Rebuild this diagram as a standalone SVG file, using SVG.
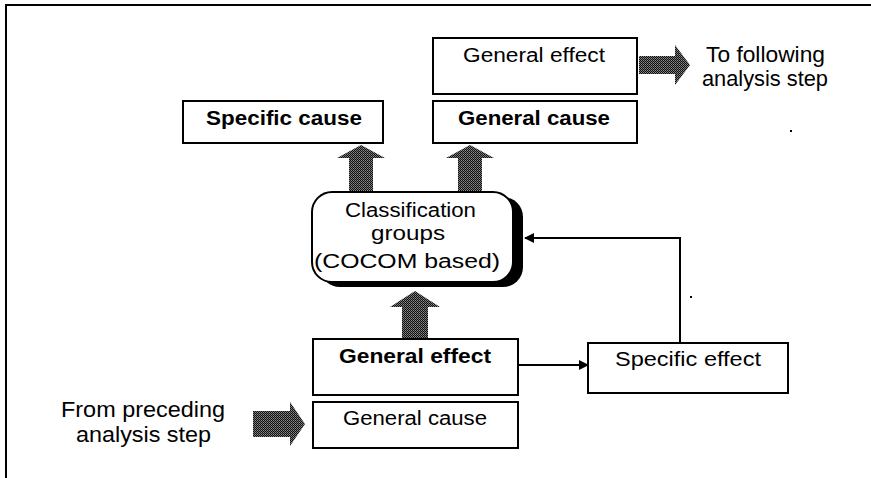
<svg xmlns="http://www.w3.org/2000/svg" width="871" height="478" viewBox="0 0 871 478">
  <defs>
    <!-- dithered grey fill used by the block arrows -->
    <pattern id="dither" width="2" height="2" patternUnits="userSpaceOnUse">
      <rect width="2" height="2" fill="#111"/>
      <rect x="1" y="0" width="1" height="1" fill="#8a8a8a"/>
      <rect x="0" y="1" width="1" height="1" fill="#6a6a6a"/>
    </pattern>
    <marker id="head" markerWidth="10" markerHeight="10" refX="9" refY="5" orient="auto" markerUnits="userSpaceOnUse">
      <path d="M0,0 L10,5 L0,10 Z" fill="#000"/>
    </marker>
    <style>
      .box { fill: #fff; stroke: #000; stroke-width: 2; }
      .lbl { font-family: "Liberation Sans", Arial, sans-serif; font-size: 19.5px; fill: #000; }
      .b { font-weight: bold; }
      .out { font-family: "Liberation Sans", Arial, sans-serif; font-size: 22.5px; fill: #000; }
      .blk { fill: url(#dither); }
      .wire { fill: none; stroke: #000; stroke-width: 2; }
    </style>
  </defs>

  <rect width="871" height="478" fill="#fff"/>

  <!-- frame -->
  <path d="M6,478 L6,5 L871,5" fill="none" stroke="#000" stroke-width="2"/>

  <!-- block arrows -->
  <g id="block-arrows">
    <polygon class="blk" points="349,192 349,158 337,158 361,145 385,158 373,158 373,192"/>
    <polygon class="blk" points="458,192 458,158 446,158 470,145 494,158 482,158 482,192"/>
    <polygon class="blk" points="402,339 402,307 390,307 415,291 440,307 428,307 428,339"/>
    <polygon class="blk" points="639,56 675,56 675,45 690,65 675,85 675,74 639,74"/>
    <polygon class="blk" points="253,411 290,411 290,402 305,424 290,446 290,437 253,437"/>
  </g>

  <!-- connectors -->
  <g id="connectors">
    <line class="wire" x1="518" y1="365" x2="588" y2="365" marker-end="url(#head)"/>
    <polyline class="wire" points="680,343 680,238 525,238" marker-end="url(#head)"/>
  </g>

  <g id="specific-cause">
    <rect class="box" x="183" y="101" width="200" height="42"/>
    <text class="lbl b" x="206" y="125" textLength="156" lengthAdjust="spacingAndGlyphs">Specific cause</text>
  </g>

  <g id="general-effect-next">
    <rect class="box" x="433" y="38" width="204" height="56"/>
    <text class="lbl" x="463" y="62" textLength="142" lengthAdjust="spacingAndGlyphs">General effect</text>
  </g>

  <g id="general-cause-next">
    <rect class="box" x="433" y="101" width="204" height="42"/>
    <text class="lbl b" x="458" y="125" textLength="152" lengthAdjust="spacingAndGlyphs">General cause</text>
  </g>

  <g id="to-following">
    <text class="out" x="706" y="62" textLength="119" lengthAdjust="spacingAndGlyphs">To following</text>
    <text class="out" x="702" y="86" textLength="126" lengthAdjust="spacingAndGlyphs">analysis step</text>
  </g>

  <g id="classification-groups">
    <rect x="320" y="197" width="203" height="90" rx="20" fill="#000"/>
    <rect class="box" x="312" y="192" width="201" height="90" rx="20"/>
    <text class="lbl" x="345" y="217" textLength="131" lengthAdjust="spacingAndGlyphs">Classification</text>
    <text class="lbl" x="371" y="240" textLength="74" lengthAdjust="spacingAndGlyphs">groups</text>
    <text class="lbl" x="314" y="268" textLength="186" lengthAdjust="spacingAndGlyphs">(COCOM based)</text>
  </g>

  <g id="general-effect">
    <rect class="box" x="313" y="339" width="205" height="56"/>
    <text class="lbl b" x="339" y="363" textLength="152" lengthAdjust="spacingAndGlyphs">General effect</text>
  </g>

  <g id="general-cause">
    <rect class="box" x="313" y="402" width="205" height="46"/>
    <text class="lbl" x="343" y="425" textLength="144" lengthAdjust="spacingAndGlyphs">General cause</text>
  </g>

  <g id="specific-effect">
    <rect class="box" x="588" y="343" width="200" height="50"/>
    <text class="lbl" x="615" y="366" textLength="146" lengthAdjust="spacingAndGlyphs">Specific effect</text>
  </g>

  <g id="from-preceding">
    <text class="out" x="61" y="417" textLength="164" lengthAdjust="spacingAndGlyphs">From preceding</text>
    <text class="out" x="76" y="442" textLength="135" lengthAdjust="spacingAndGlyphs">analysis step</text>
  </g>

  <!-- specks -->
  <rect x="790" y="130" width="2" height="2" fill="#000"/>
  <rect x="690" y="296" width="2" height="2" fill="#000"/>
</svg>
